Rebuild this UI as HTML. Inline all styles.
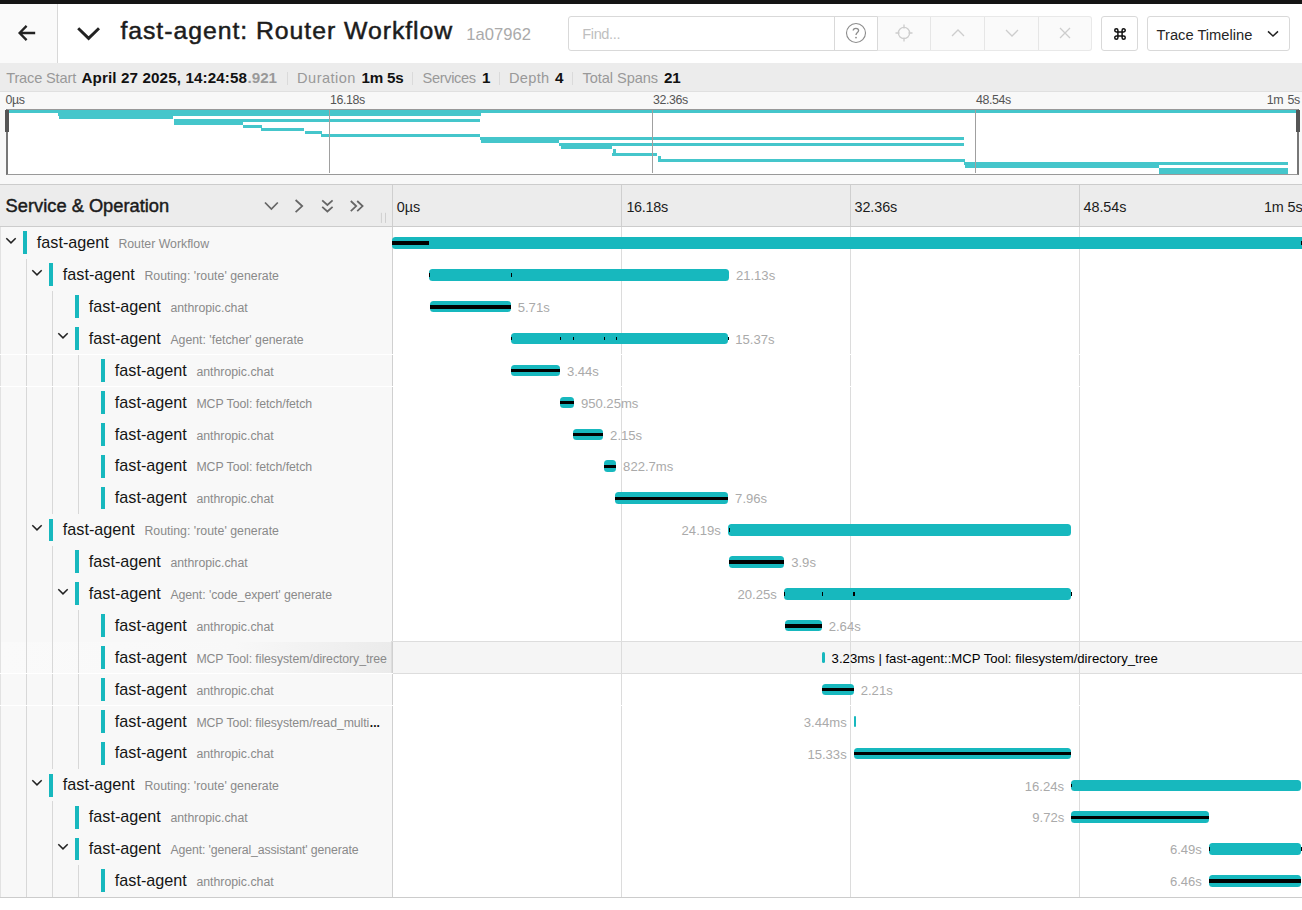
<!DOCTYPE html>
<html lang="en"><head><meta charset="utf-8"><title>fast-agent: Router Workflow</title>
<style>
*{box-sizing:border-box;margin:0;padding:0}
html,body{width:1302px;height:910px;overflow:hidden;background:#fff;font-family:"Liberation Sans",sans-serif;color:#1f1f1f}
i{display:block;font-style:normal}
.abs{position:absolute}
#topbar{position:absolute;left:0;top:0;width:1302px;height:3.6px;background:#151515}
#hdr{position:absolute;left:0;top:3.6px;width:1302px;height:59.6px;background:#fff}
#back{position:absolute;left:0;top:0;width:57.6px;height:59.6px;background:#fafafa;border-right:1px solid #d8d8d8}
#title{position:absolute;left:120.4px;top:12.7px;font-size:24.8px;line-height:30px;white-space:nowrap;color:#1c1c1c;font-weight:normal;letter-spacing:0.96px;-webkit-text-stroke:0.5px #1c1c1c}
#tid{position:absolute;left:466.3px;top:21.2px;font-size:16.6px;line-height:20px;color:#aaa;white-space:nowrap}
#find{position:absolute;left:568.3px;top:12.6px;width:309.4px;height:34.4px;border:1px solid #d9d9d9;border-radius:3px 0 0 3px;background:#fff}
#find span{position:absolute;left:13px;top:7.6px;font-size:14.6px;letter-spacing:-0.4px;line-height:18px;color:#bfbfbf}
#find .sep{position:absolute;left:265px;top:0;width:1px;height:32.4px;background:#d9d9d9}
#grp{position:absolute;left:877.2px;top:12.6px;width:214.8px;height:34.4px;border:1px solid #e9e9e9;border-left:1px solid #d9d9d9;background:#fafafa;border-radius:0 3px 3px 0}
#grp .sep{position:absolute;top:0;width:1px;height:32.4px;background:#e6e6e6}
#kbd{position:absolute;left:1101px;top:12.6px;width:37px;height:34.4px;border:1px solid #d9d9d9;border-radius:3px;background:#fff}
#sel{position:absolute;left:1147.2px;top:12.6px;width:142.6px;height:34.4px;border:1px solid #d9d9d9;border-radius:3px;background:#fff}
#sel span{position:absolute;left:8.4px;top:8.8px;font-size:14.7px;line-height:18px;color:#262626;white-space:nowrap}
#info{position:absolute;left:0;top:63.2px;width:1302px;height:28.6px;background:#ececec;border-bottom:1px solid #e0e0e0}
#info span{position:absolute;top:5.4px;line-height:18px;white-space:nowrap}
#info .g{color:#999}
#info .b{color:#111;font-weight:bold}
#info .bg{color:#999;font-weight:bold}
#info .dv{position:absolute;top:8.6px;width:1px;height:13.5px;background:#dadada}
#mini{position:absolute;left:0;top:91.8px;width:1302px;height:92.2px;background:#f8f8f8}
#mini .tk{position:absolute;top:1.2px;font-size:12.4px;letter-spacing:-0.42px;word-spacing:1.5px;line-height:14px;color:#555;white-space:nowrap}
#mbox{position:absolute;left:6px;top:17.2px;width:1293px;height:65.6px;background:#fff;border:1px solid #999;border-left:2px solid #777;border-right:2px solid #777;border-top-color:#999}
#thdr{position:absolute;left:0;top:184px;width:1302px;height:43px;background:#ececec;border-top:1px solid #ccc;border-bottom:1px solid #ccc}
#thdr h3{position:absolute;left:5.6px;top:9.6px;font-size:18.3px;line-height:22px;font-weight:normal;color:#1b1b1b;white-space:nowrap;-webkit-text-stroke:0.45px #1b1b1b}
#thdr .tl{position:absolute;top:13px;line-height:18px;color:#1c1c1c;white-space:nowrap}
#thdr .vl{position:absolute;top:0;width:1px;height:41px;background:#cfcfcf}
.rows{position:absolute;left:0;top:0;width:1302px;height:910px;pointer-events:none}
.row{position:absolute;left:0;width:1302px;height:31.92px}
.lc{position:absolute;left:0;top:0;width:392px;height:31.92px;background:#f8f8f8;overflow:hidden}
.rc{position:absolute;left:392px;top:0;width:910px;height:31.92px;overflow:hidden}
.row.hov .lc{background:linear-gradient(90deg,#fafafa 0%,#f8f8f8 60%,#ebebeb 100%)}
.row.hov .rc{background:#f5f5f5}
.cb{position:absolute;top:4.5px;width:3.9px;height:22.8px;background:#17b8be}
.chev{position:absolute;top:9.8px}
.svc{position:absolute;top:5.2px;font-size:16.2px;line-height:20px;color:#151515;white-space:nowrap}
.op{position:absolute;top:9.2px;font-size:12.3px;line-height:16px;color:#8a8a8a;white-space:nowrap}
.bar{position:absolute;top:10.21px;height:11.49px;background:#17b8be;border-radius:3.5px;min-width:2px}
.blk{position:absolute;top:14.36px;height:3.51px;background:#000}
.lbl{position:absolute;top:9.2px;font-size:13.1px;line-height:16px;color:#aaa;white-space:nowrap}
.lbl.hl{color:#000;font-size:13.17px}
.gl{position:absolute;width:1px;background:#d8d8d8}
.tickl{position:absolute;top:227px;width:1px;height:670px;background:#d2d2d2}
.ms{position:absolute;height:3.07px;background:rgba(23,184,190,.8)}
.mt{position:absolute;top:0;width:1px;height:63px;background:#a0a0a0}
.mh{position:absolute;top:-0.4px;width:4px;height:22px;background:#555}
.gl{top:0;height:31.92px}
.wl{position:absolute;left:0;width:1302px;height:1px;background:#fff}
.botl{position:absolute;left:0;top:897px;width:1302px;height:1px;background:#ccc}
.row.hov .rc{outline:1px solid #ddd;height:31.1px}
.row.hov .lc{height:31.1px}
.tk0,.tk1,.tk2,.tk3{position:absolute;top:0;width:1px;height:31.92px;background:#dcdcdc}
.tk0{left:0;background:#d0d0d0}.tk1{left:229px}.tk2{left:458px}.tk3{left:687px}
.ell{font-weight:bold;color:#111;font-size:12px;letter-spacing:0;margin-left:0.6px;line-height:0}
.g0{background:#e2e2e2}

</style></head><body>
<div id="topbar"></div>
<div id="hdr">
  <div id="back"><svg class="abs" style="left:17px;top:19.2px" width="20" height="20" viewBox="0 0 20 20"><path d="M18.2 10 H2.8 M9.6 2.9 L2.6 10 L9.6 17.1" fill="none" stroke="#222" stroke-width="2.3"/></svg></div>
  <svg class="abs" style="left:76px;top:21px" width="26" height="16" viewBox="0 0 26 16"><path d="M2.2 3.2 L12.6 13.4 L23 3.2" fill="none" stroke="#222" stroke-width="2.9"/></svg>
  <div id="title">fast-agent: Router Workflow</div>
  <div id="tid">1a07962</div>
  <div id="find"><span>Find...</span><i class="sep"></i>
    <svg class="abs" style="left:276px;top:5.2px" width="22" height="22" viewBox="0 0 22 22"><circle cx="11" cy="11" r="9.5" fill="none" stroke="#8c8c8c" stroke-width="1.1"/><path d="M8.2 8.6 C8.2 5.6 13.6 5.6 13.6 8.6 C13.6 10.6 11 10.6 11 13" fill="none" stroke="#8c8c8c" stroke-width="1.3"/><circle cx="11" cy="15.6" r="0.9" fill="#8c8c8c"/></svg>
  </div>
  <div id="grp">
    <i class="sep" style="left:51.8px"></i><i class="sep" style="left:105.6px"></i><i class="sep" style="left:159.6px"></i>
    <svg class="abs" style="left:16px;top:6px" width="20" height="20" viewBox="0 0 20 20"><circle cx="10" cy="10" r="5.6" fill="none" stroke="#cdcdcd" stroke-width="1.3"/><path d="M10 1.5V5.5M10 14.5V18.5M1.5 10H5.5M14.500 10H18.5" stroke="#cdcdcd" stroke-width="1.3"/></svg>
    <svg class="abs" style="left:72px;top:10px" width="16" height="12" viewBox="0 0 16 12"><path d="M2 9 L8 3 L14 9" fill="none" stroke="#cdcdcd" stroke-width="1.3"/></svg>
    <svg class="abs" style="left:126px;top:10px" width="16" height="12" viewBox="0 0 16 12"><path d="M2 3 L8 9 L14 3" fill="none" stroke="#cdcdcd" stroke-width="1.3"/></svg>
    <svg class="abs" style="left:180px;top:9px" width="14" height="14" viewBox="0 0 14 14"><path d="M2 2 L12 12 M12 2 L2 12" fill="none" stroke="#cdcdcd" stroke-width="1.3"/></svg>
  </div>
  <div id="kbd"><svg class="abs" style="left:10.7px;top:10.3px" width="14" height="14" viewBox="0 0 16 16"><path d="M5.6 5.600 H10.4 V10.4 H5.6 Z M5.6 5.6 V3.8 A1.8 1.8 0 1 0 3.8 5.6 H5.6 M10.4 5.6 H12.2 A1.8 1.8 0 1 0 10.4 3.8 V5.6 M10.4 10.4 V12.2 A1.8 1.8 0 1 0 12.2 10.4 H10.4 M5.6 10.4 H3.8 A1.8 1.8 0 1 0 5.600 12.2 V10.4" fill="none" stroke="#111" stroke-width="1.7"/></svg></div>
  <div id="sel"><span>Trace Timeline</span><svg class="abs" style="left:117.6px;top:10.6px" width="14" height="12" viewBox="0 0 14 12"><path d="M2 3.400 L7 8 L12 3.400" fill="none" stroke="#222" stroke-width="1.5"/></svg></div>
</div>
<div id="info"><span class="g" style="left:6.2px;font-size:14.6px;letter-spacing:-0.161px;">Trace Start</span><span class="b" style="left:81.5px;font-size:15.2px;letter-spacing:0.118px;">April 27 2025, 14:24:58</span><span class="bg" style="left:247.6px;font-size:15.2px;letter-spacing:-0.046px;">.921</span><i class="dv" style="left:286.8px"></i><span class="g" style="left:297.1px;font-size:14.6px;letter-spacing:0.439px;">Duration</span><span class="b" style="left:361.6px;font-size:15.2px;letter-spacing:-0.240px;">1m 5s</span><i class="dv" style="left:412.3px"></i><span class="g" style="left:422.6px;font-size:14.6px;letter-spacing:-0.348px;">Services</span><span class="b" style="left:482.0px;font-size:15.2px;letter-spacing:-0.254px;">1</span><i class="dv" style="left:498.9px"></i><span class="g" style="left:509.0px;font-size:14.6px;letter-spacing:0.288px;">Depth</span><span class="b" style="left:555.0px;font-size:15.2px;letter-spacing:0.146px;">4</span><i class="dv" style="left:572.3px"></i><span class="g" style="left:582.6px;font-size:14.6px;letter-spacing:-0.081px;">Total Spans</span><span class="b" style="left:663.9px;font-size:15.2px;letter-spacing:-0.154px;">21</span></div>
<div id="mini">
  <span class="tk" style="left:5.6px">0µs</span>
  <span class="tk" style="left:330px">16.18s</span>
  <span class="tk" style="left:653px">32.36s</span>
  <span class="tk" style="left:976px">48.54s</span>
  <span class="tk" style="right:2.2px">1m 5s</span>
  <div id="mbox"><i class="ms" style="left:0.0px;top:-0.40px;width:1289.0px"></i><i class="ms" style="left:50.0px;top:2.67px;width:423.3px"></i><i class="ms" style="left:51.4px;top:5.73px;width:113.9px"></i><i class="ms" style="left:165.8px;top:8.80px;width:306.6px"></i><i class="ms" style="left:165.8px;top:11.87px;width:69.0px"></i><i class="ms" style="left:234.9px;top:14.93px;width:19.6px"></i><i class="ms" style="left:253.1px;top:18.00px;width:42.6px"></i><i class="ms" style="left:296.9px;top:21.07px;width:17.2px"></i><i class="ms" style="left:312.7px;top:24.13px;width:159.5px"></i><i class="ms" style="left:471.9px;top:27.20px;width:484.5px"></i><i class="ms" style="left:473.3px;top:30.27px;width:78.1px"></i><i class="ms" style="left:550.8px;top:33.33px;width:405.6px"></i><i class="ms" style="left:552.5px;top:36.40px;width:51.8px"></i><i class="ms" style="left:605.1px;top:39.47px;width:3.2px"></i><i class="ms" style="left:604.4px;top:42.53px;width:45.0px"></i><i class="ms" style="left:649.5px;top:45.60px;width:3.1px"></i><i class="ms" style="left:649.5px;top:48.67px;width:307.0px"></i><i class="ms" style="left:956.3px;top:51.73px;width:324.2px"></i><i class="ms" style="left:956.6px;top:54.80px;width:194.2px"></i><i class="ms" style="left:1150.8px;top:57.87px;width:129.7px"></i><i class="ms" style="left:1150.8px;top:60.93px;width:129.7px"></i><i class="mt" style="left:321px"></i><i class="mt" style="left:644px"></i><i class="mt" style="left:967px"></i><i class="mh" style="left:-3px"></i><i class="mh" style="right:-3px"></i></div>
</div>
<div id="thdr">
  <h3>Service &amp; Operation</h3>
  <svg class="abs" style="left:255px;top:5px" width="137" height="36" viewBox="255 190 137 36" fill="none" stroke="#666" stroke-width="1.75"><path d="M265 202.5 L271.4 209 L277.800 202.5"/><path d="M295.6 200 L302.2 206.05 L295.6 212.1"/><path d="M322.2 200.3 L327.4 205 L332.6 200.3 M322.2 206.8 L327.4 211.5 L332.6 206.800"/><path d="M350.800 201 L356.200 206.1 L350.8 211.2 M357.2 201 L362.6 206.1 L357.2 211.2"/><path d="M381.4 212.8 V222.9 M385.5 212.8 V222.9" stroke="#cfcfcf" stroke-width="1"/></svg>
  <i class="vl" style="left:392px"></i><i class="vl" style="left:621px"></i><i class="vl" style="left:850px"></i><i class="vl" style="left:1079px"></i>
<span class="tl" style="left:396.8px;font-size:14.4px;letter-spacing:-0.102px;">0µs</span><span class="tl" style="left:626.4px;font-size:14.4px;letter-spacing:-0.273px;">16.18s</span><span class="tl" style="left:854.5px;font-size:14.4px;letter-spacing:-0.089px;">32.36s</span><span class="tl" style="left:1083.6px;font-size:14.4px;letter-spacing:-0.089px;">48.54s</span><span class="tl" style="left:1264.0px;font-size:14.4px;letter-spacing:-0.143px;">1m 5s</span>
</div>
<i class="tickl" style="left:392px"></i>
<div class="rows">
<div class="row" style="top:226.92px">
<div class="lc"><i class="gl g0" style="left:0.0px"></i><svg class="chev" style="left:4.7px" width="12" height="8" viewBox="0 0 12 8"><path d="M1.3 1.2 L6 5.9 L10.7 1.2" fill="none" stroke="#222" stroke-width="1.5"/></svg><i class="cb" style="left:23.1px"></i><span class="svc" style="left:36.8px">fast-agent</span><span class="op" style="left:118.4px;letter-spacing:0.001px">Router Workflow</span></div>
<div class="rc"><i class="tk0"></i><i class="tk1"></i><i class="tk2"></i><i class="tk3"></i><i class="bar" style="left:0.0px;width:918.0px"></i><i class="blk" style="left:0.0px;width:37.0px"></i><i class="blk" style="left:908.6px;width:1.4px"></i></div>
</div>
<div class="row" style="top:258.83px">
<div class="lc"><i class="gl g0" style="left:0.0px"></i><i class="gl" style="left:26.1px"></i><svg class="chev" style="left:30.7px" width="12" height="8" viewBox="0 0 12 8"><path d="M1.3 1.2 L6 5.9 L10.7 1.2" fill="none" stroke="#222" stroke-width="1.5"/></svg><i class="cb" style="left:49.1px"></i><span class="svc" style="left:62.8px">fast-agent</span><span class="op" style="left:144.4px;letter-spacing:0.027px">Routing: 'route' generate</span></div>
<div class="rc"><i class="tk0"></i><i class="tk1"></i><i class="tk2"></i><i class="tk3"></i><i class="bar" style="left:37.0px;width:299.9px"></i><i class="blk" style="left:37.0px;width:1.0px"></i><i class="blk" style="left:119.0px;width:1.0px"></i><span class="lbl" style="left:343.9px">21.13s</span></div>
</div>
<div class="row" style="top:290.73px">
<div class="lc"><i class="gl g0" style="left:0.0px"></i><i class="gl" style="left:26.1px"></i><i class="gl" style="left:52.3px"></i><i class="cb" style="left:75.1px"></i><span class="svc" style="left:88.8px">fast-agent</span><span class="op" style="left:170.4px;letter-spacing:0.002px">anthropic.chat</span></div>
<div class="rc"><i class="tk0"></i><i class="tk1"></i><i class="tk2"></i><i class="tk3"></i><i class="bar" style="left:38.0px;width:80.7px"></i><i class="blk" style="left:38.0px;width:80.7px"></i><span class="lbl" style="left:125.7px">5.71s</span></div>
</div>
<div class="row" style="top:322.64px">
<div class="lc"><i class="gl g0" style="left:0.0px"></i><i class="gl" style="left:26.1px"></i><i class="gl" style="left:52.3px"></i><svg class="chev" style="left:56.7px" width="12" height="8" viewBox="0 0 12 8"><path d="M1.3 1.2 L6 5.9 L10.7 1.2" fill="none" stroke="#222" stroke-width="1.5"/></svg><i class="cb" style="left:75.1px"></i><span class="svc" style="left:88.8px">fast-agent</span><span class="op" style="left:170.4px;letter-spacing:0.002px">Agent: 'fetcher' generate</span></div>
<div class="rc"><i class="tk0"></i><i class="tk1"></i><i class="tk2"></i><i class="tk3"></i><i class="bar" style="left:119.0px;width:217.2px"></i><i class="blk" style="left:119.0px;width:1.0px"></i><i class="blk" style="left:168.0px;width:1.0px"></i><i class="blk" style="left:181.0px;width:1.0px"></i><i class="blk" style="left:212.0px;width:1.0px"></i><i class="blk" style="left:224.0px;width:1.0px"></i><i class="blk" style="left:336.4px;width:1.0px"></i><span class="lbl" style="left:343.2px">15.37s</span></div>
</div>
<div class="row" style="top:354.54px">
<div class="lc"><i class="gl g0" style="left:0.0px"></i><i class="gl" style="left:26.1px"></i><i class="gl" style="left:52.3px"></i><i class="gl" style="left:78.4px"></i><i class="cb" style="left:101.1px"></i><span class="svc" style="left:114.8px">fast-agent</span><span class="op" style="left:196.4px;letter-spacing:0.002px">anthropic.chat</span></div>
<div class="rc"><i class="tk0"></i><i class="tk1"></i><i class="tk2"></i><i class="tk3"></i><i class="bar" style="left:119.0px;width:48.9px"></i><i class="blk" style="left:119.0px;width:48.9px"></i><span class="lbl" style="left:174.9px">3.44s</span></div>
</div>
<div class="row" style="top:386.45px">
<div class="lc"><i class="gl g0" style="left:0.0px"></i><i class="gl" style="left:26.1px"></i><i class="gl" style="left:52.3px"></i><i class="gl" style="left:78.4px"></i><i class="cb" style="left:101.1px"></i><span class="svc" style="left:114.8px">fast-agent</span><span class="op" style="left:196.4px;letter-spacing:-0.031px">MCP Tool: fetch/fetch</span></div>
<div class="rc"><i class="tk0"></i><i class="tk1"></i><i class="tk2"></i><i class="tk3"></i><i class="bar" style="left:168.0px;width:13.9px"></i><i class="blk" style="left:168.0px;width:13.9px"></i><span class="lbl" style="left:188.9px">950.25ms</span></div>
</div>
<div class="row" style="top:418.36px">
<div class="lc"><i class="gl g0" style="left:0.0px"></i><i class="gl" style="left:26.1px"></i><i class="gl" style="left:52.3px"></i><i class="gl" style="left:78.4px"></i><i class="cb" style="left:101.1px"></i><span class="svc" style="left:114.8px">fast-agent</span><span class="op" style="left:196.4px;letter-spacing:0.002px">anthropic.chat</span></div>
<div class="rc"><i class="tk0"></i><i class="tk1"></i><i class="tk2"></i><i class="tk3"></i><i class="bar" style="left:180.9px;width:30.2px"></i><i class="blk" style="left:180.9px;width:30.2px"></i><span class="lbl" style="left:218.1px">2.15s</span></div>
</div>
<div class="row" style="top:450.26px">
<div class="lc"><i class="gl g0" style="left:0.0px"></i><i class="gl" style="left:26.1px"></i><i class="gl" style="left:52.3px"></i><i class="gl" style="left:78.4px"></i><i class="cb" style="left:101.1px"></i><span class="svc" style="left:114.8px">fast-agent</span><span class="op" style="left:196.4px;letter-spacing:-0.031px">MCP Tool: fetch/fetch</span></div>
<div class="rc"><i class="tk0"></i><i class="tk1"></i><i class="tk2"></i><i class="tk3"></i><i class="bar" style="left:211.9px;width:12.2px"></i><i class="blk" style="left:211.9px;width:12.2px"></i><span class="lbl" style="left:231.1px">822.7ms</span></div>
</div>
<div class="row" style="top:482.17px">
<div class="lc"><i class="gl g0" style="left:0.0px"></i><i class="gl" style="left:26.1px"></i><i class="gl" style="left:52.3px"></i><i class="gl" style="left:78.4px"></i><i class="cb" style="left:101.1px"></i><span class="svc" style="left:114.8px">fast-agent</span><span class="op" style="left:196.4px;letter-spacing:0.002px">anthropic.chat</span></div>
<div class="rc"><i class="tk0"></i><i class="tk1"></i><i class="tk2"></i><i class="tk3"></i><i class="bar" style="left:223.1px;width:113.0px"></i><i class="blk" style="left:223.1px;width:113.0px"></i><span class="lbl" style="left:343.1px">7.96s</span></div>
</div>
<div class="row" style="top:514.08px">
<div class="lc"><i class="gl g0" style="left:0.0px"></i><i class="gl" style="left:26.1px"></i><svg class="chev" style="left:30.7px" width="12" height="8" viewBox="0 0 12 8"><path d="M1.3 1.2 L6 5.9 L10.7 1.2" fill="none" stroke="#222" stroke-width="1.5"/></svg><i class="cb" style="left:49.1px"></i><span class="svc" style="left:62.8px">fast-agent</span><span class="op" style="left:144.4px;letter-spacing:0.027px">Routing: 'route' generate</span></div>
<div class="rc"><i class="tk0"></i><i class="tk1"></i><i class="tk2"></i><i class="tk3"></i><i class="bar" style="left:335.9px;width:343.3px"></i><i class="blk" style="left:336.6px;width:1.0px"></i><span class="lbl" style="right:581.1px">24.19s</span></div>
</div>
<div class="row" style="top:545.98px">
<div class="lc"><i class="gl g0" style="left:0.0px"></i><i class="gl" style="left:26.1px"></i><i class="gl" style="left:52.3px"></i><i class="cb" style="left:75.1px"></i><span class="svc" style="left:88.8px">fast-agent</span><span class="op" style="left:170.4px;letter-spacing:0.002px">anthropic.chat</span></div>
<div class="rc"><i class="tk0"></i><i class="tk1"></i><i class="tk2"></i><i class="tk3"></i><i class="bar" style="left:336.9px;width:55.3px"></i><i class="blk" style="left:336.9px;width:55.3px"></i><span class="lbl" style="left:399.2px">3.9s</span></div>
</div>
<div class="row" style="top:577.89px">
<div class="lc"><i class="gl g0" style="left:0.0px"></i><i class="gl" style="left:26.1px"></i><i class="gl" style="left:52.3px"></i><svg class="chev" style="left:56.7px" width="12" height="8" viewBox="0 0 12 8"><path d="M1.3 1.2 L6 5.9 L10.7 1.2" fill="none" stroke="#222" stroke-width="1.5"/></svg><i class="cb" style="left:75.1px"></i><span class="svc" style="left:88.8px">fast-agent</span><span class="op" style="left:170.4px;letter-spacing:-0.060px">Agent: 'code_expert' generate</span></div>
<div class="rc"><i class="tk0"></i><i class="tk1"></i><i class="tk2"></i><i class="tk3"></i><i class="bar" style="left:391.8px;width:287.4px"></i><i class="blk" style="left:392.0px;width:1.0px"></i><i class="blk" style="left:429.7px;width:1.0px"></i><i class="blk" style="left:461.2px;width:1.5px"></i><i class="blk" style="left:678.6px;width:1.0px"></i><span class="lbl" style="right:525.2px">20.25s</span></div>
</div>
<div class="row" style="top:609.79px">
<div class="lc"><i class="gl g0" style="left:0.0px"></i><i class="gl" style="left:26.1px"></i><i class="gl" style="left:52.3px"></i><i class="gl" style="left:78.4px"></i><i class="cb" style="left:101.1px"></i><span class="svc" style="left:114.8px">fast-agent</span><span class="op" style="left:196.4px;letter-spacing:0.002px">anthropic.chat</span></div>
<div class="rc"><i class="tk0"></i><i class="tk1"></i><i class="tk2"></i><i class="tk3"></i><i class="bar" style="left:393.0px;width:36.7px"></i><i class="blk" style="left:393.0px;width:36.7px"></i><span class="lbl" style="left:436.7px">2.64s</span></div>
</div>
<div class="row hov" style="top:641.70px">
<div class="lc"><i class="gl g0" style="left:0.0px"></i><i class="gl" style="left:26.1px"></i><i class="gl" style="left:52.3px"></i><i class="gl" style="left:78.4px"></i><i class="cb" style="left:101.1px"></i><span class="svc" style="left:114.8px">fast-agent</span><span class="op" style="left:196.4px;letter-spacing:-0.071px">MCP Tool: filesystem/directory_tree</span></div>
<div class="rc"><i class="tk0"></i><i class="tk1"></i><i class="tk2"></i><i class="tk3"></i><i class="bar" style="left:430.3px;width:2.3px"></i><span class="lbl hl" style="left:439.6px">3.23ms | fast-agent::MCP Tool: filesystem/directory_tree</span></div>
</div>
<div class="row" style="top:673.61px">
<div class="lc"><i class="gl g0" style="left:0.0px"></i><i class="gl" style="left:26.1px"></i><i class="gl" style="left:52.3px"></i><i class="gl" style="left:78.4px"></i><i class="cb" style="left:101.1px"></i><span class="svc" style="left:114.8px">fast-agent</span><span class="op" style="left:196.4px;letter-spacing:0.002px">anthropic.chat</span></div>
<div class="rc"><i class="tk0"></i><i class="tk1"></i><i class="tk2"></i><i class="tk3"></i><i class="bar" style="left:429.8px;width:31.9px"></i><i class="blk" style="left:429.8px;width:31.9px"></i><span class="lbl" style="left:468.7px">2.21s</span></div>
</div>
<div class="row" style="top:705.51px">
<div class="lc"><i class="gl g0" style="left:0.0px"></i><i class="gl" style="left:26.1px"></i><i class="gl" style="left:52.3px"></i><i class="gl" style="left:78.4px"></i><i class="cb" style="left:101.1px"></i><span class="svc" style="left:114.8px">fast-agent</span><span class="op" style="left:196.4px;letter-spacing:-0.075px">MCP Tool: filesystem/read_multi<b class="ell">...</b></span></div>
<div class="rc"><i class="tk0"></i><i class="tk1"></i><i class="tk2"></i><i class="tk3"></i><i class="bar" style="left:461.7px;width:2.2px"></i><span class="lbl" style="right:455.3px">3.44ms</span></div>
</div>
<div class="row" style="top:737.42px">
<div class="lc"><i class="gl g0" style="left:0.0px"></i><i class="gl" style="left:26.1px"></i><i class="gl" style="left:52.3px"></i><i class="gl" style="left:78.4px"></i><i class="cb" style="left:101.1px"></i><span class="svc" style="left:114.8px;top:4.6px">fast-agent</span><span class="op" style="left:196.4px;letter-spacing:0.002px;top:8.6px">anthropic.chat</span></div>
<div class="rc"><i class="tk0"></i><i class="tk1"></i><i class="tk2"></i><i class="tk3"></i><i class="bar" style="left:461.7px;width:217.5px"></i><i class="blk" style="left:461.7px;width:217.5px"></i><span class="lbl" style="right:455.3px">15.33s</span></div>
</div>
<div class="row" style="top:769.33px">
<div class="lc"><i class="gl g0" style="left:0.0px"></i><i class="gl" style="left:26.1px"></i><svg class="chev" style="left:30.7px" width="12" height="8" viewBox="0 0 12 8"><path d="M1.3 1.2 L6 5.9 L10.7 1.2" fill="none" stroke="#222" stroke-width="1.5"/></svg><i class="cb" style="left:49.1px"></i><span class="svc" style="left:62.8px;top:4.6px">fast-agent</span><span class="op" style="left:144.4px;letter-spacing:0.027px;top:8.6px">Routing: 'route' generate</span></div>
<div class="rc"><i class="tk0"></i><i class="tk1"></i><i class="tk2"></i><i class="tk3"></i><i class="bar" style="left:679.1px;width:229.7px"></i><i class="blk" style="left:679.2px;width:1.0px"></i><span class="lbl" style="right:237.9px">16.24s</span></div>
</div>
<div class="row" style="top:801.23px">
<div class="lc"><i class="gl g0" style="left:0.0px"></i><i class="gl" style="left:26.1px"></i><i class="gl" style="left:52.3px"></i><i class="cb" style="left:75.1px"></i><span class="svc" style="left:88.8px;top:4.6px">fast-agent</span><span class="op" style="left:170.4px;letter-spacing:0.002px;top:8.6px">anthropic.chat</span></div>
<div class="rc"><i class="tk0"></i><i class="tk1"></i><i class="tk2"></i><i class="tk3"></i><i class="bar" style="left:679.3px;width:137.6px"></i><i class="blk" style="left:679.3px;width:137.6px"></i><span class="lbl" style="right:237.7px">9.72s</span></div>
</div>
<div class="row" style="top:833.14px">
<div class="lc"><i class="gl g0" style="left:0.0px"></i><i class="gl" style="left:26.1px"></i><i class="gl" style="left:52.3px"></i><svg class="chev" style="left:56.7px" width="12" height="8" viewBox="0 0 12 8"><path d="M1.3 1.2 L6 5.9 L10.7 1.2" fill="none" stroke="#222" stroke-width="1.5"/></svg><i class="cb" style="left:75.1px"></i><span class="svc" style="left:88.8px;top:4.6px">fast-agent</span><span class="op" style="left:170.4px;letter-spacing:-0.113px;top:8.6px">Agent: 'general_assistant' generate</span></div>
<div class="rc"><i class="tk0"></i><i class="tk1"></i><i class="tk2"></i><i class="tk3"></i><i class="bar" style="left:816.9px;width:91.9px"></i><i class="blk" style="left:817.0px;width:1.0px"></i><i class="blk" style="left:908.6px;width:1.4px"></i><span class="lbl" style="right:100.1px">6.49s</span></div>
</div>
<div class="row" style="top:865.04px">
<div class="lc"><i class="gl g0" style="left:0.0px"></i><i class="gl" style="left:26.1px"></i><i class="gl" style="left:52.3px"></i><i class="gl" style="left:78.4px"></i><i class="cb" style="left:101.1px;top:3.9px"></i><span class="svc" style="left:114.8px">fast-agent</span><span class="op" style="left:196.4px;letter-spacing:0.002px">anthropic.chat</span></div>
<div class="rc"><i class="tk0"></i><i class="tk1"></i><i class="tk2"></i><i class="tk3"></i><i class="bar" style="left:816.9px;width:91.9px"></i><i class="blk" style="left:816.9px;width:91.9px"></i><span class="lbl" style="right:100.1px">6.46s</span></div>
</div>
<i class="wl" style="top:354px;width:1302px"></i><i class="wl" style="top:386px;width:1302px"></i><i class="wl" style="top:673px;width:393px"></i><i class="wl" style="top:705px;width:1302px"></i><i class="botl"></i></div>
</body></html>
